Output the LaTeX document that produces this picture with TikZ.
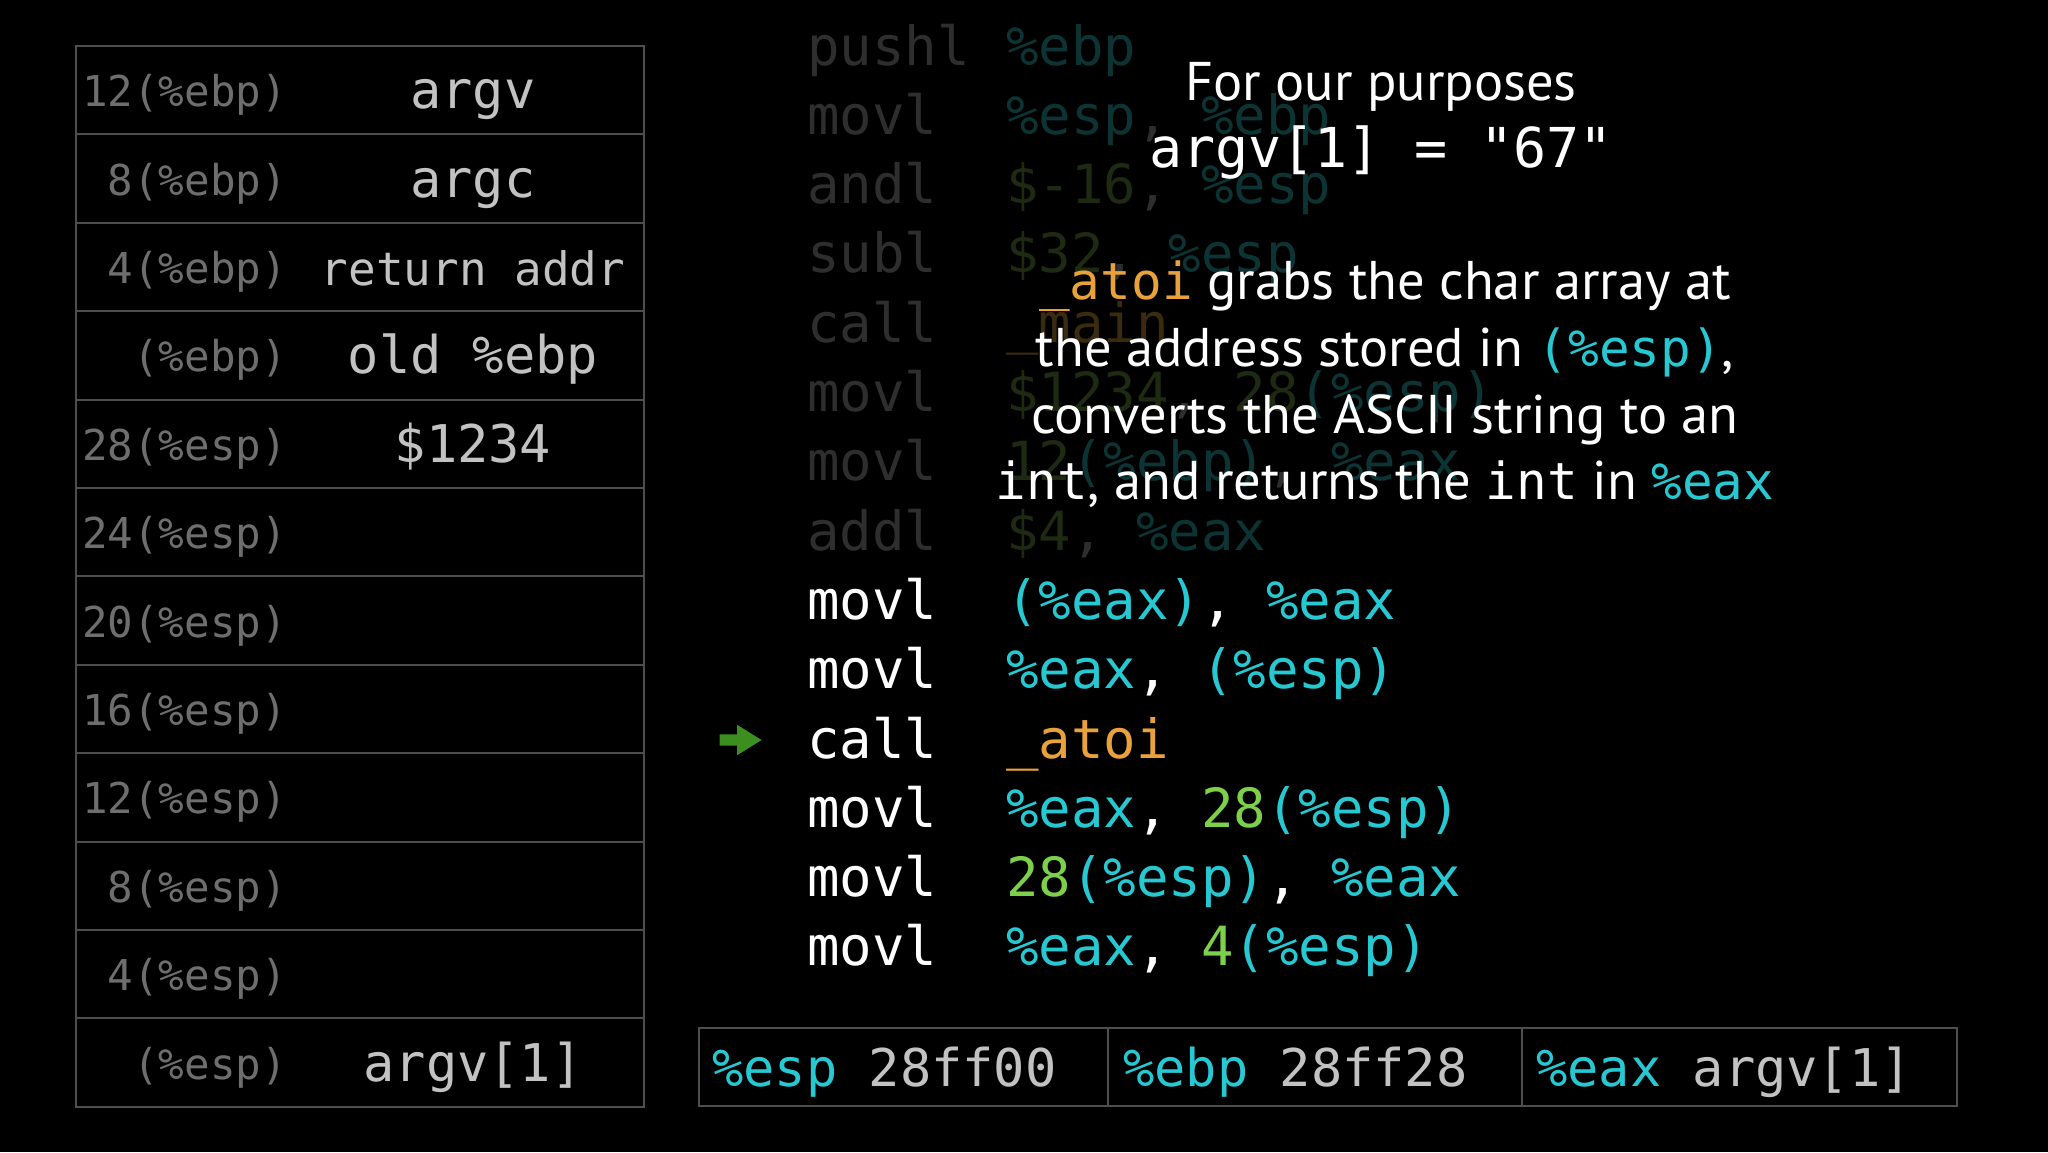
\documentclass[tikz,border=0pt]{standalone}
\usepackage{fontspec}
\setmainfont{PT Sans}
\newfontfamily\codefont{DejaVu Sans Mono}
\usetikzlibrary{positioning, shapes.arrows}
\definecolor{gridgray}{HTML}{4E4E4E}
\definecolor{lblgray}{HTML}{6E6E6E}
\definecolor{valgray}{HTML}{C2C2C2}
\definecolor{opreg}{HTML}{26C8D2}
\definecolor{opimm}{HTML}{7DD04A}
\definecolor{opfn}{HTML}{E9A23B}
\definecolor{dimgray}{HTML}{2E2E2E}
\definecolor{dimcyan}{HTML}{0C3434}
\definecolor{dimgreen}{HTML}{1E2A12}
\definecolor{dimorange}{HTML}{3A2A10}
\definecolor{pcgreen}{HTML}{3C8E1E}
\newcommand{\opreg}[1]{\textcolor{opreg}{#1}}
\newcommand{\opimm}[1]{\textcolor{opimm}{#1}}
\newcommand{\opfn}[1]{\textcolor{opfn}{#1}}
\newcommand{\mono}[1]{{\codefont\fontsize{51}{60}\selectfont #1}}
\newcommand{\squeeze}{\fontsize{46}{54}\selectfont}

\begin{document}
\begin{tikzpicture}[x=1pt, y=-1pt,
    cell/.style={draw=gridgray, line width=2pt, minimum width=568pt, minimum height=88.4pt, inner sep=0pt},
    slotlbl/.style={text=lblgray, font=\codefont\fontsize{42.5}{50}\selectfont, anchor=base east, inner sep=0pt},
    slotval/.style={text=valgray, font=\codefont\fontsize{52}{60}\selectfont, anchor=base, inner sep=0pt},
    codeline/.style={text=white, font=\codefont\fontsize{54}{62}\selectfont, anchor=base west, inner sep=0pt},
    dimline/.style={codeline, text=dimgray,
        execute at begin node={\colorlet{opreg}{dimcyan}\colorlet{opimm}{dimgreen}\colorlet{opfn}{dimorange}}},
    note/.style={text=white, font=\fontsize{54.5}{66}\selectfont, anchor=base, inner sep=0pt},
    regbox/.style={draw=gridgray, line width=2pt, minimum height=78pt, inner sep=0pt, outer sep=0pt},
    regtxt/.style={text=valgray, font=\codefont\fontsize{52}{60}\selectfont, anchor=base west, inner sep=0pt},
    pcmark/.style={single arrow, fill=pcgreen, inner xsep=0pt, inner ysep=5.5pt, minimum height=42pt,
        single arrow head extend=9.5pt, single arrow tip angle=64}]
    \fill[black] (0,0) rectangle (2048,1152);
    \useasboundingbox (0,0) rectangle (2048,1152);

    % stack frame
    \foreach \off/\base/\val [count=\i from 0] in {12/ebp/argv, 8/ebp/argc, 4/ebp/{\squeeze return addr},
            /ebp/old \%ebp, 28/esp/\$1234, 24/esp/, 20/esp/, 16/esp/, 12/esp/, 8/esp/, 4/esp/, /esp/argv[1]} {
        \node[cell] (row\i) at (360,{90.2+88.4*\i}) {};
        \node[slotlbl] (lbl\i) at ([xshift=212pt, yshift=-16.5pt]row\i.west) {\off(\%\base)};
        \node[slotval] (val\i) at ([xshift=113pt, yshift=-18.5pt]row\i.center) {\val};
    }

    % code already run
    \foreach \mn/\ops [count=\i] in {pushl/{\opreg{\%ebp}}, movl/{\opreg{\%esp}, \opreg{\%ebp}},
            andl/{\opimm{\$-16}, \opreg{\%esp}}, subl/{\opimm{\$32}, \opreg{\%esp}}, call/{\opfn{\_main}},
            movl/{\opimm{\$1234}, \opimm{28}\opreg{(\%esp)}}, movl/{\opimm{12}\opreg{(\%ebp)}, \opreg{\%eax}},
            addl/{\opimm{\$4}, \opreg{\%eax}}} {
        \node[dimline] (mn\i) at (807,{65+69.3*(\i-1)}) {\mn};
        \node[dimline] (op\i) at (1006,{65+69.3*(\i-1)}) {\ops};
    }
    % code around the call
    \foreach \mn/\ops [count=\i from 9] in {movl/{\opreg{(\%eax)}, \opreg{\%eax}}, movl/{\opreg{\%eax}, \opreg{(\%esp)}},
            call/{\opfn{\_atoi}}, movl/{\opreg{\%eax}, \opimm{28}\opreg{(\%esp)}},
            movl/{\opimm{28}\opreg{(\%esp)}, \opreg{\%eax}}, movl/{\opreg{\%eax}, \opimm{4}\opreg{(\%esp)}}} {
        \node[codeline] (mn\i) at (807,{65+69.3*(\i-1)}) {\mn};
        \node[codeline] (op\i) at (1006,{65+69.3*(\i-1)}) {\ops};
    }
    \node[pcmark] (pc) at (736,740) {};

    % explanation
    \node[note] (purp) at (1381,100) {For our purposes};
    \node[note] (argval) at (1381,167) {{\codefont\fontsize{55}{60}\selectfont argv[1] = "67"}};
    \node[note] (atoi1) at (1385,299) {\mono{\opfn{\_atoi}} grabs the char array at};
    \node[note] (atoi2) at (1385,366) {the address stored in \mono{\opreg{(\%esp)}},};
    \node[note] (atoi3) at (1385,433) {converts the ASCII string to an};
    \node[note] (atoi4) at (1385,499) {\mono{int}, and returns the \mono{int} in \mono{\opreg{\%eax}}};

    % registers
    \node[regbox, minimum width=409pt] (espbox) at (903.5,1067) {};
    \node[regbox, minimum width=414pt, right=0pt of espbox] (ebpbox) {};
    \node[regbox, minimum width=435pt, right=0pt of ebpbox] (eaxbox) {};
    \node[regtxt] (esptxt) at ([xshift=13pt, yshift=-19pt]espbox.west) {\opreg{\%esp} 28ff00};
    \node[regtxt] (ebptxt) at ([xshift=15pt, yshift=-19pt]ebpbox.west) {\opreg{\%ebp} 28ff28};
    \node[regtxt] (eaxtxt) at ([xshift=14pt, yshift=-19pt]eaxbox.west) {\opreg{\%eax} argv[1]};
\end{tikzpicture}
\end{document}
